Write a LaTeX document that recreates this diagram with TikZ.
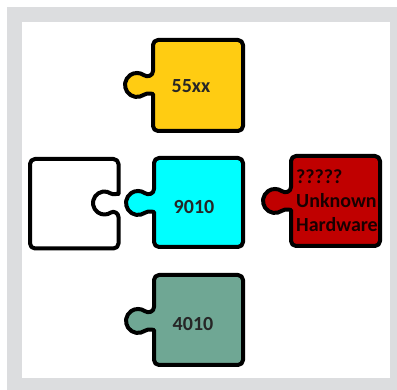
\documentclass[tikz,border=0pt]{standalone}
\usepackage{fontspec}
\setmainfont{Carlito}
\usepackage{xcolor}
\definecolor{framegray}{HTML}{DCDDDF}
\definecolor{pieceyellow}{HTML}{FFCC12}
\definecolor{piececyan}{HTML}{00FFFF}
\definecolor{piecered}{HTML}{C00000}
\definecolor{piecegreen}{HTML}{6FA794}
\usepackage{tikz}
\usetikzlibrary{positioning}

% piece with a knob on its left side: fill, x0, y0, x1, y1, knob centre
\newcommand{\knobpiece}[6]{%
  \draw[piece,fill=#1] (#2,#6-14) [rounded corners=5pt] -- (#2,#3) -- (#4,#3) -- (#4,#5) -- (#2,#5)
    -- (#2,#6+14) [sharp corners]
    .. controls (#2,#6+9) and (#2-5.8,#6+7.5) .. (#2-9.1,#6+9.8)
    arc[start angle=55,end angle=305,radius=12]
    .. controls (#2-5.8,#6-7.5) and (#2,#6-9) .. (#2,#6-14) -- cycle;}

\begin{document}
\begin{tikzpicture}[x=1pt,y=-1pt,
  piece/.style={draw=black,line width=4pt,line join=round},
  label/.style={font=\fontsize{20}{24}\selectfont\bfseries,text=black!85,
                inner sep=0pt,align=center},
  hwlabel/.style={font=\fontsize{20}{24}\selectfont\bfseries,text=black!90!red,
                  inner sep=0pt,align=left,anchor=west}
]
\useasboundingbox (0,0) rectangle (397,390);

% frame
\fill[framegray] (7,7) rectangle (397,390);
\fill[white] (22,22) rectangle (390,378);

% pieces
\knobpiece{pieceyellow}{153}{40}{243}{131}{85}
\knobpiece{piececyan}{154}{158}{243}{247}{203}
\knobpiece{piecered}{291}{156}{380}{246}{201}
\knobpiece{piecegreen}{154}{275}{243}{365}{321}

% empty piece with a socket on its right side
\draw[piece,fill=white] (30,200) [rounded corners=5pt] -- (30,159) -- (118.5,159)
  -- (118.5,189) [sharp corners]
  .. controls (118.5,193) and (113.6,195.3) .. (111.1,193.6)
  arc[start angle=-55,end angle=-305,radius=11.5]
  .. controls (113.6,210.7) and (118.5,213) .. (118.5,217)
  [rounded corners=5pt] -- (118.5,248.5) -- (30,248.5) -- (30,200) -- cycle;

% labels
\node[label] (l55) at (191,86) {55xx};
\node[label] (l9010) at (194,207) {9010};
\node[label] (l4010) at (193,324) {4010};
\node[hwlabel] (lunk) at (296,201) {?????\\Unknown\\Hardware};

\end{tikzpicture}
\end{document}
